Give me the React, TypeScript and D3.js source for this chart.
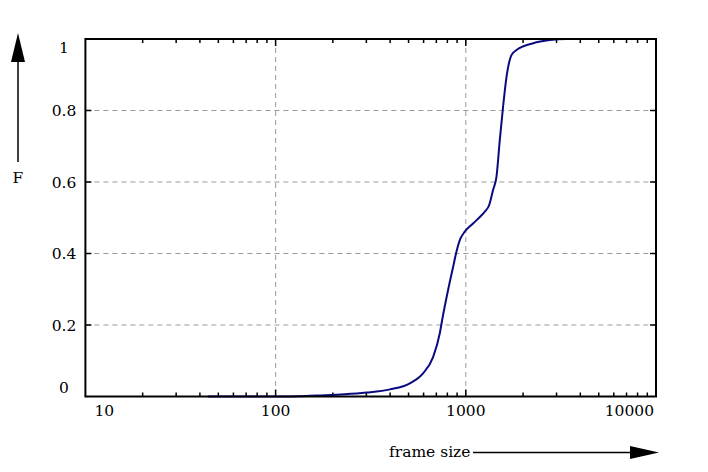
import { useRef, useEffect } from "react";
import * as d3 from "d3";

// frame size (bytes) vs. cumulative fraction F
const frameSizes = [44, 100, 130, 164, 230, 301, 399, 508, 596, 673, 730, 754, 807, 858, 893, 938, 988, 1092, 1200, 1259, 1326, 1392, 1450, 1509, 1570, 1637, 1738, 1847, 2258, 2763, 3383, 5487];
const cdfValues = [0, 0, 0.001, 0.003, 0.006, 0.011, 0.02, 0.037, 0.065, 0.11, 0.177, 0.219, 0.298, 0.363, 0.405, 0.442, 0.461, 0.484, 0.505, 0.517, 0.535, 0.578, 0.615, 0.717, 0.81, 0.894, 0.955, 0.969, 0.988, 0.997, 1, 1];

const xMajorTicks = [10, 100, 1000, 10000];
const xTickLabels = ["10", "100", "1000", "10000"];
const yTicks = [0, 0.2, 0.4, 0.6, 0.8, 1];
const yTickLabels = ["0", "0.2", "0.4", "0.6", "0.8", "1"];

export default function App() {
  const chartRef = useRef<HTMLDivElement>(null);

  useEffect(() => {
    if (!chartRef.current) return;
    d3.select(chartRef.current).selectAll("*").remove();

    const width = 708;
    const height = 472;
    const left = 85.4, right = 656, top = 39, bottom = 396.5;
    const font = "DejaVu Serif";
    const fontSize = "15.5px";

    const svg = d3
      .select(chartRef.current)
      .append("svg")
      .attr("width", width)
      .attr("height", height)
      .style("position", "absolute")
      .style("left", "0px")
      .style("top", "0px")
      .style("background", "#fff");

    const x = d3.scaleLog().domain([10, 10000]).range([left, right]);
    const y = d3.scaleLinear().domain([0, 1]).range([bottom, top]);

    // dashed grid
    svg
      .selectAll("line.vgrid")
      .data([100, 1000])
      .enter()
      .append("line")
      .attr("x1", (d) => x(d))
      .attr("x2", (d) => x(d))
      .attr("y1", top)
      .attr("y2", bottom)
      .attr("stroke", "#999")
      .attr("stroke-width", 1)
      .attr("stroke-dasharray", "5,4");

    svg
      .selectAll("line.hgrid")
      .data([0.2, 0.4, 0.6, 0.8])
      .enter()
      .append("line")
      .attr("x1", left)
      .attr("x2", right)
      .attr("y1", (d) => y(d))
      .attr("y2", (d) => y(d))
      .attr("stroke", "#999")
      .attr("stroke-width", 1)
      .attr("stroke-dasharray", "5,4");

    // x ticks (minor + major) on bottom and top, pointing inward
    const allX = x.ticks().filter((d) => d > 10 && d < 10000);
    const isMajor = (d: number) => Math.abs(Math.log10(d) - Math.round(Math.log10(d))) < 1e-9;
    allX.forEach((d) => {
      const len = isMajor(d) ? 7 : 4;
      svg.append("line").attr("x1", x(d)).attr("x2", x(d)).attr("y1", bottom).attr("y2", bottom - len)
        .attr("stroke", "#000").attr("stroke-width", 1.5);
      svg.append("line").attr("x1", x(d)).attr("x2", x(d)).attr("y1", top).attr("y2", top + len)
        .attr("stroke", "#000").attr("stroke-width", 1.5);
    });

    // y ticks on left and right
    yTicks.filter((d) => d > 0 && d < 1).forEach((d) => {
      svg.append("line").attr("x1", left).attr("x2", left + 6).attr("y1", y(d)).attr("y2", y(d))
        .attr("stroke", "#000").attr("stroke-width", 1.5);
      svg.append("line").attr("x1", right).attr("x2", right - 6).attr("y1", y(d)).attr("y2", y(d))
        .attr("stroke", "#000").attr("stroke-width", 1.5);
    });

    // CDF line
    const pts: [number, number][] = frameSizes.map((s, i) => [x(s), y(cdfValues[i])]);
    const line = d3.line().curve(d3.curveMonotoneX);
    svg
      .append("path")
      .attr("d", line(pts))
      .attr("fill", "none")
      .attr("stroke", "#0a0a80")
      .attr("stroke-width", 2);

    // frame
    svg
      .append("rect")
      .attr("x", left)
      .attr("y", top)
      .attr("width", right - left)
      .attr("height", bottom - top)
      .attr("fill", "none")
      .attr("stroke", "#000")
      .attr("stroke-width", 2);

    // x tick labels (end labels pulled inside)
    xMajorTicks.forEach((d, i) => {
      let tx = x(d);
      let anchor = "middle";
      if (i === 0) { tx = x(d) + 9; anchor = "start"; }
      if (i === xMajorTicks.length - 1) { tx = x(d) - 2; anchor = "end"; }
      svg.append("text").attr("x", tx).attr("y", 416).attr("text-anchor", anchor)
        .attr("font-family", font).attr("font-size", fontSize).attr("fill", "#000")
        .text(xTickLabels[i]);
    });

    // y tick labels
    yTicks.forEach((d, i) => {
      let ty = y(d) + 5.5;
      if (d === 1) ty = y(d) + 14;
      if (d === 0) ty = y(d) - 4;
      svg.append("text").attr("x", 64).attr("y", ty).attr("text-anchor", "middle")
        .attr("font-family", font).attr("font-size", fontSize).attr("fill", "#000")
        .text(yTickLabels[i]);
    });

    // F arrow
    svg.append("line").attr("x1", 18).attr("x2", 18).attr("y1", 60).attr("y2", 162)
      .attr("stroke", "#000").attr("stroke-width", 1.5);
    svg.append("polygon").attr("points", "18,33 11,62 25,62").attr("fill", "#000");
    svg.append("text").attr("x", 18).attr("y", 183).attr("text-anchor", "middle")
      .attr("font-family", font).attr("font-size", fontSize).attr("fill", "#000").text("F");

    // frame size arrow
    svg.append("line").attr("x1", 473).attr("x2", 632).attr("y1", 452.5).attr("y2", 452.5)
      .attr("stroke", "#000").attr("stroke-width", 1.5);
    svg.append("polygon").attr("points", "659,452.5 630,446 630,459").attr("fill", "#000");
    svg.append("text").attr("x", 389).attr("y", 457)
      .attr("font-family", font).attr("font-size", fontSize).attr("fill", "#000").text("frame size");
  }, []);

  return <div ref={chartRef}></div>;
}
